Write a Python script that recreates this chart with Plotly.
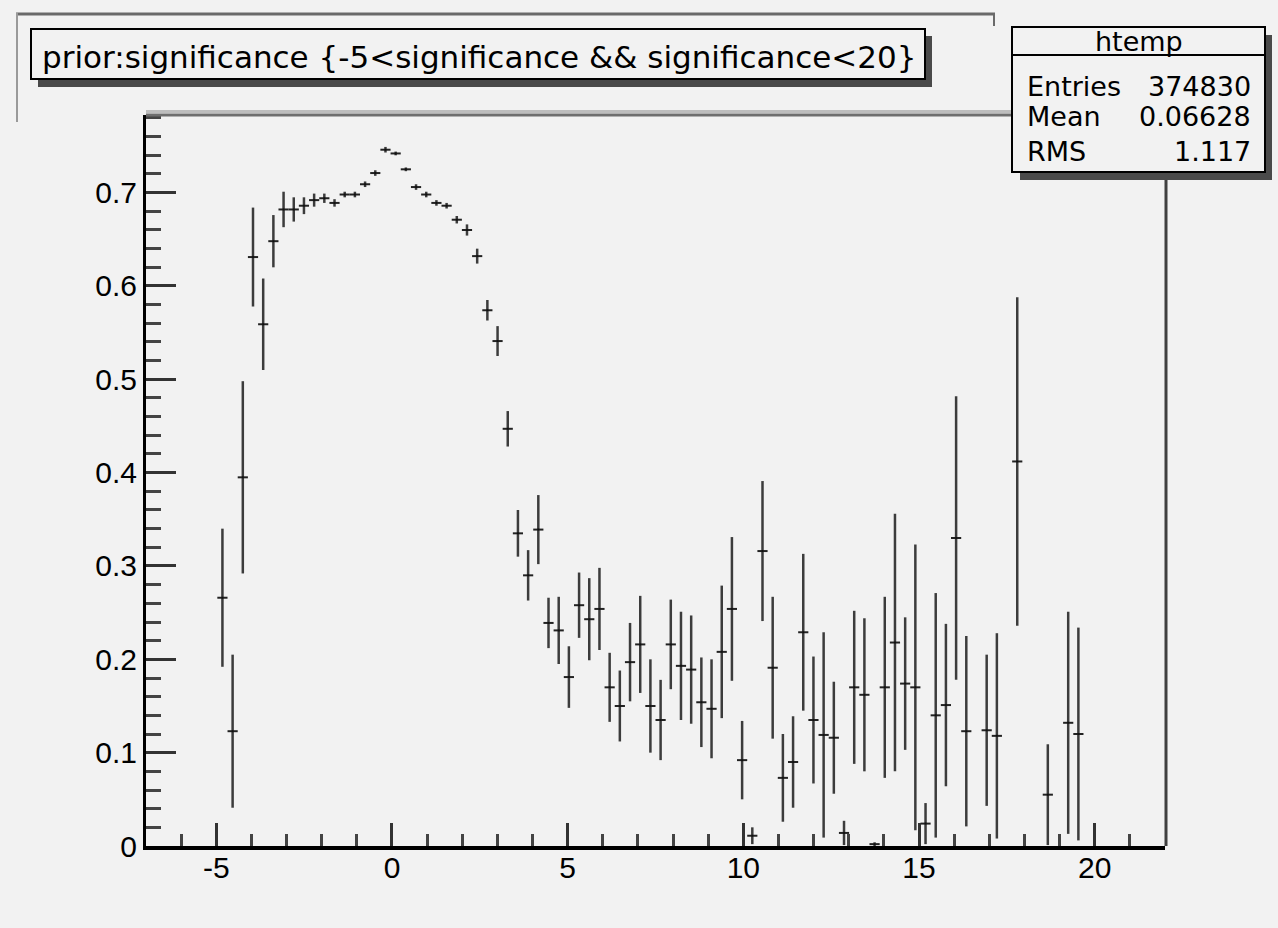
import plotly.graph_objects as go

# Profile histogram "htemp": mean of prior in bins of significance
n_bins = 100
x_lo, x_hi = -7.0, 22.0
first_bin = 7  # first filled bin; the list below runs over consecutive bins

prior_mean = [
    0.266, 0.123, 0.395, 0.631, 0.559, 0.648, 0.682, 0.682, 0.686, 0.692,
    0.694, 0.689, 0.698, 0.698, 0.709, 0.721, 0.746, 0.742, 0.725, 0.706,
    0.698, 0.689, 0.686, 0.671, 0.660, 0.632, 0.574, 0.541, 0.447, 0.335,
    0.290, 0.339, 0.239, 0.231, 0.181, 0.258, 0.243, 0.254, 0.170, 0.150,
    0.197, 0.216, 0.150, 0.135, 0.216, 0.193, 0.189, 0.154, 0.147, 0.208,
    0.254, 0.092, 0.011, 0.316, 0.191, 0.073, 0.090, 0.229, 0.135, 0.119,
    0.116, 0.014, 0.170, 0.162, 0.002, 0.170, 0.218, 0.174, 0.170, 0.024,
    0.140, 0.151, 0.330, 0.123, None, 0.124, 0.118, None, 0.412, None,
    None, 0.055, None, 0.132, 0.120,
]
prior_err = [
    0.074, 0.082, 0.103, 0.053, 0.049, 0.028, 0.019, 0.013, 0.009, 0.007,
    0.005, 0.004, 0.003, 0.003, 0.003, 0.003, 0.003, 0.002, 0.002, 0.003,
    0.003, 0.003, 0.003, 0.004, 0.006, 0.008, 0.011, 0.016, 0.019, 0.025,
    0.027, 0.037, 0.027, 0.036, 0.033, 0.035, 0.044, 0.044, 0.037, 0.038,
    0.042, 0.052, 0.050, 0.043, 0.048, 0.058, 0.058, 0.048, 0.053, 0.071,
    0.077, 0.042, 0.009, 0.075, 0.076, 0.047, 0.049, 0.084, 0.068, 0.110,
    0.060, 0.013, 0.082, 0.082, 0.002, 0.097, 0.138, 0.071, 0.153, 0.022,
    0.131, 0.087, 0.152, 0.102, None, 0.081, 0.110, None, 0.176, None,
    None, 0.054, None, 0.119, 0.114,
]

x_tick_vals = [-5, 0, 5, 10, 15, 20]
x_tick_text = ["-5", "0", "5", "10", "15", "20"]
y_tick_vals = [0, 0.1, 0.2, 0.3, 0.4, 0.5, 0.6, 0.7]
y_tick_text = ["0", "0.1", "0.2", "0.3", "0.4", "0.5", "0.6", "0.7"]
y_max = 0.7832

title_text = "prior:significance {-5&lt;significance &amp;&amp; significance&lt;20}"
stats_name = "htemp"
stats_rows = [("Entries", "374830"), ("Mean", "0.06628"), ("RMS", "1.117")]

bin_w = (x_hi - x_lo) / n_bins
xs, ys, es = [], [], []
for i, (m, e) in enumerate(zip(prior_mean, prior_err)):
    if m is None:
        continue
    xs.append(x_lo + bin_w * (first_bin + i + 0.5))
    ys.append(m)
    es.append(e)

BG = "#f2f2f2"
W, H = 1278, 928
L, R, T, B = 146, 1165, 115, 846


def fx(p):
    return (p - L) / (R - L)


def fy(p):
    return (B - p) / (B - T)


fig = go.Figure()
fig.add_trace(go.Scatter(
    x=xs, y=ys, mode="markers",
    marker=dict(size=2, color="#111111"),
    error_y=dict(type="data", array=es, visible=True, thickness=2.5, width=0, color="#3c3c3c"),
    error_x=dict(type="constant", value=bin_w / 2, visible=True, thickness=2, width=0, color="#222222"),
    showlegend=False, hoverinfo="skip",
))

tick_font = dict(family="Liberation Sans, Arial, sans-serif", size=30, color="black")

fig.update_layout(
    width=W, height=H,
    paper_bgcolor=BG, plot_bgcolor=BG,
    margin=dict(l=L, r=W - R, t=T, b=H - B, pad=0),
    xaxis=dict(
        range=[x_lo, x_hi], tickmode="array", tickvals=x_tick_vals, ticktext=x_tick_text,
        ticks="inside", ticklen=23, tickwidth=3, tickcolor="#333333",
        showline=True, linecolor="black", linewidth=4,
        showgrid=False, zeroline=False, tickfont=tick_font, ticklabelstandoff=-8,
        minor=dict(tickmode="linear", tick0=0, dtick=1, ticks="inside", ticklen=12,
                   tickwidth=3, tickcolor="#444444", showgrid=False),
    ),
    yaxis=dict(
        range=[0, y_max], tickmode="array", tickvals=y_tick_vals, ticktext=y_tick_text,
        ticks="inside", ticklen=30, tickwidth=3, tickcolor="#333333",
        showline=True, linecolor="black", linewidth=3,
        showgrid=False, zeroline=False, tickfont=tick_font,
        minor=dict(tickmode="linear", tick0=0, dtick=0.02, ticks="inside", ticklen=15,
                   tickwidth=3, tickcolor="#444444", showgrid=False),
    ),
)

shapes = [
    # pad border
    dict(type="line", x0=fx(16), x1=fx(995), y0=fy(14), y1=fy(14), line=dict(color="#6a6a6a", width=3)),
    dict(type="line", x0=fx(994), x1=fx(994), y0=fy(13), y1=fy(26), line=dict(color="#6a6a6a", width=2)),
    dict(type="line", x0=fx(17), x1=fx(17), y0=fy(13), y1=fy(122), line=dict(color="#9a9a9a", width=2)),
    # frame top and right edges
    dict(type="line", x0=fx(146), x1=fx(1165), y0=fy(111.5), y1=fy(111.5), line=dict(color="#bdbdbd", width=3)),
    dict(type="line", x0=fx(146), x1=fx(1165), y0=fy(115), y1=fy(115), line=dict(color="#6e6e6e", width=3)),
    dict(type="line", x0=fx(1166), x1=fx(1166), y0=fy(115), y1=fy(846), line=dict(color="#404040", width=3)),
    # title box with shadow
    dict(type="rect", x0=fx(38), x1=fx(932), y0=fy(36), y1=fy(87), fillcolor="#4a4a4a", line=dict(width=0)),
    dict(type="rect", x0=fx(31), x1=fx(925), y0=fy(29), y1=fy(79), fillcolor=BG, line=dict(color="black", width=2)),
    # stats box with shadow
    dict(type="rect", x0=fx(1020), x1=fx(1272), y0=fy(35), y1=fy(180), fillcolor="#4a4a4a", line=dict(width=0)),
    dict(type="rect", x0=fx(1012), x1=fx(1265), y0=fy(27), y1=fy(172), fillcolor=BG, line=dict(color="black", width=2)),
    dict(type="line", x0=fx(1012), x1=fx(1265), y0=fy(55), y1=fy(55), line=dict(color="black", width=2)),
]
for s in shapes:
    s.update(xref="paper", yref="paper", layer="above")
fig.update_layout(shapes=shapes)

box_font = dict(family="DejaVu Sans, sans-serif", size=27, color="black")
annotations = [
    dict(text=title_text, x=fx(40), y=fy(57), xanchor="left", yanchor="middle",
         font=dict(family="DejaVu Sans, sans-serif", size=31, color="black")),
    dict(text=stats_name, x=fx(1139), y=fy(41), xanchor="center", yanchor="middle", font=box_font),
]
row_y = [87, 117, 151]
for (label, value), yy in zip(stats_rows, row_y):
    annotations.append(dict(text=label, x=fx(1025), y=fy(yy), xanchor="left", yanchor="middle", font=box_font))
    annotations.append(dict(text=value, x=fx(1253), y=fy(yy), xanchor="right", yanchor="middle", font=box_font))
for a in annotations:
    a.update(xref="paper", yref="paper", showarrow=False)
fig.update_layout(annotations=annotations)

fig.write_html("out.html")
